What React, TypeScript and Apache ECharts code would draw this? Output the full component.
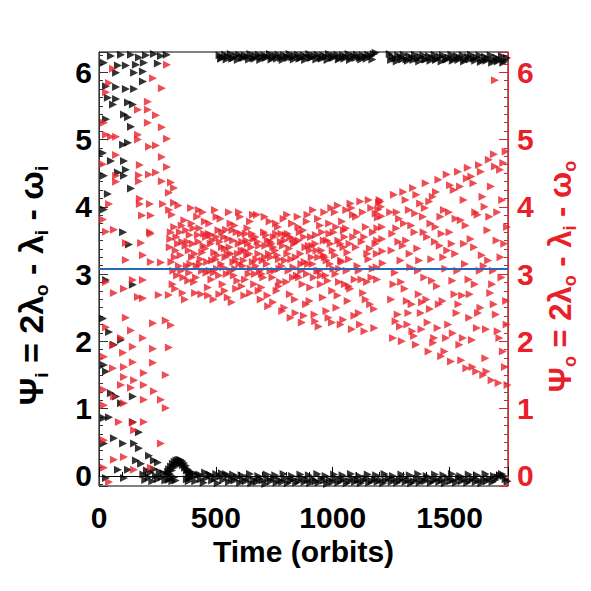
import React, { useEffect, useRef } from "react";
import * as echarts from "echarts";

const FONT = "Liberation Sans";
const RED = "#e8202a";
const BLUE = "#2a67b1";

// horizontal reference line (≈ π)
const resonanceLine = 3.08;

// Ψo (red), early circulating phase (time, angle)
const redEarly: [number, number][] = [
  [291, 6.11], [231, 5.91], [269, 5.76], [60, 6.05], [43, 5.84], [30, 5.7], [209, 5.56], [167, 5.44], [209, 5.44], [244, 5.36],
  [209, 5.25], [21, 5.25], [269, 5.18], [30, 5.07], [51, 5.04], [73, 5.04], [167, 5.07], [291, 5.01], [167, 5.0], [214, 4.89],
  [244, 4.91], [73, 4.77], [269, 4.74], [175, 4.62], [291, 4.59], [17, 4.63], [73, 4.46], [171, 4.47], [214, 4.48], [244, 4.51],
  [269, 4.38], [171, 4.38], [308, 4.36], [321, 4.28], [299, 4.21], [73, 4.37], [175, 4.12], [175, 4.04], [218, 4.04], [274, 4.04],
  [321, 4.06], [43, 4.04], [17, 3.81], [64, 3.66], [30, 3.63], [218, 3.62], [184, 3.87], [222, 3.87],
  [222, 3.6], [115, 3.46], [180, 3.46], [188, 3.28], [115, 3.21], [222, 3.18], [265, 3.17], [30, 2.88], [145, 2.91], [188, 2.91],
  [107, 2.78], [64, 2.72], [167, 2.66], [256, 2.69], [188, 2.64], [299, 2.69], [115, 2.35], [231, 2.27], [286, 2.31], [308, 2.24],
  [30, 2.21], [137, 2.16], [94, 2.05], [188, 2.05], [60, 1.94], [231, 1.89], [299, 1.91], [145, 1.92], [103, 1.83], [21, 1.77],
  [145, 1.69], [231, 1.68], [107, 1.62], [60, 1.6], [192, 1.53], [286, 1.5], [107, 1.47], [150, 1.42], [94, 1.35], [192, 1.35],
  [137, 1.31], [235, 1.26], [21, 1.28], [64, 1.18], [192, 1.13], [265, 1.13], [107, 1.08], [286, 1.01], [21, 1.05], [85, 0.8],
  [145, 0.79], [192, 0.8], [265, 0.48], [150, 0.68], [21, 0.53], [64, 0.24], [107, 0.28], [21, 0.12], [222, 0.12], [150, 0.09],
  [43, -0.09],
];

// Ψo (red), librating cluster around π
const redCluster: [number, number][] = [
  [300, 3.95], [305, 3.52], [310, 3.18], [315, 2.85], [322, 3.7], [328, 3.35], [334, 2.98], [340, 4.02], [346, 3.62], [352, 3.05],
  [358, 2.72], [365, 3.8], [370, 3.42], [376, 3.12], [382, 2.9], [388, 3.58], [394, 3.98], [398, 3.25],
  [404, 3.68], [410, 3.3], [415, 2.95], [420, 3.85], [426, 3.48], [432, 3.15], [438, 2.7], [444, 3.92], [450, 3.6], [455, 3.38],
  [460, 3.02], [466, 2.8], [472, 3.75], [478, 3.45], [484, 3.2], [490, 2.62], [496, 3.95],
  [502, 3.55], [508, 3.28], [514, 2.98], [520, 3.82], [526, 3.4], [532, 3.1], [538, 2.75], [544, 3.66], [550, 3.3], [556, 3.92],
  [562, 3.05], [568, 2.58], [574, 3.5], [580, 3.72], [586, 3.22], [592, 2.9], [598, 3.45],
  [604, 3.85], [610, 3.35], [616, 3.12], [622, 2.68], [628, 3.6], [634, 3.28], [640, 3.0], [646, 3.78], [652, 3.4], [658, 3.18],
  [664, 2.85], [670, 3.55], [676, 3.88], [682, 3.3], [688, 3.05], [692, 2.62], [695, 2.8], [697, 3.0], [700, 3.2],
  [706, 3.62], [712, 3.42], [718, 3.15], [724, 2.52], [730, 3.78], [736, 3.25], [742, 2.95], [748, 3.55], [754, 3.35], [760, 2.75],
  [766, 3.7], [772, 3.08], [778, 3.48], [784, 2.45], [790, 3.82], [796, 3.2],
  [802, 2.88], [808, 3.6], [814, 3.38], [820, 2.35], [826, 3.75], [832, 3.1], [838, 2.62], [844, 3.48], [850, 3.85], [856, 2.95],
  [862, 3.3], [868, 2.28], [874, 3.65], [880, 3.18], [886, 2.55], [892, 3.88], [898, 3.42],
  [904, 2.8], [910, 3.25], [916, 3.95], [922, 2.4], [928, 3.58], [934, 3.05], [940, 2.22], [946, 3.72], [952, 3.35], [958, 2.65],
  [964, 3.92], [970, 2.98], [976, 3.5], [982, 2.35], [988, 3.15], [994, 3.98], [998, 2.75],
  [1004, 3.62], [1010, 3.28], [1016, 2.5], [1022, 4.02], [1028, 3.08], [1034, 2.25], [1040, 3.78], [1046, 3.4], [1052, 2.85], [1058, 3.95],
  [1064, 2.6], [1070, 3.22], [1076, 4.05], [1082, 2.18], [1088, 3.55], [1094, 2.92],
  [1100, 3.85], [1106, 3.12], [1112, 2.42], [1118, 4.08], [1124, 3.48], [1130, 2.72], [1136, 2.15], [1142, 3.7], [1148, 3.3], [1154, 4.1],
  [1160, 2.55], [1166, 2.95], [1172, 3.62], [1178, 2.2], [1184, 3.9],
  [1246, 3.92], [1250, 2.62], [1252, 3.35], [1258, 2.05], [1262, 4.18], [1266, 3.02], [1272, 3.68], [1278, 2.4], [1284, 3.82], [1290, 3.2],
  [1296, 2.0], [1302, 4.22], [1308, 2.78], [1314, 3.5], [1320, 2.25], [1326, 3.95], [1332, 3.1], [1338, 2.55], [1344, 4.28], [1350, 3.62],
  [1356, 1.95], [1362, 3.38], [1368, 2.7], [1374, 4.05], [1380, 2.18], [1386, 3.85], [1392, 2.95], [1398, 4.35], [1404, 3.55], [1410, 1.85],
  [1416, 2.48], [1422, 3.22], [1428, 4.15], [1434, 2.05], [1440, 3.7], [1446, 2.82],
  [1452, 4.4], [1458, 3.42], [1464, 1.78], [1470, 2.6], [1476, 3.95], [1482, 3.08], [1488, 4.48], [1494, 2.25], [1500, 3.62], [1506, 1.7],
  [1512, 2.9], [1518, 4.25], [1524, 3.3], [1530, 2.42], [1536, 4.52], [1542, 1.95], [1548, 3.8],
  [1554, 2.68], [1560, 4.1], [1566, 3.15], [1572, 1.6], [1578, 4.58], [1584, 2.35], [1590, 3.52], [1596, 2.02], [1602, 4.35], [1608, 2.85],
  [1614, 1.55], [1620, 3.88], [1626, 4.62], [1632, 2.5], [1638, 3.28], [1644, 1.5], [1650, 4.0],
  [1656, 2.18], [1662, 3.65], [1668, 4.7], [1674, 2.72], [1680, 1.42], [1686, 3.05], [1690, 4.78], [1694, 5.88], [1698, 2.4], [1704, 3.92],
  [1710, 1.38], [1716, 4.55], [1722, 2.95], [1728, 1.85], [1734, 3.45], [1740, 4.82], [1744, 2.25], [1748, 1.35],
];

// Ψo (red), denser core of the cluster
const redCore: [number, number][] = [
  [303, 3.4], [318, 3.05], [331, 3.55], [349, 3.28], [361, 2.95], [379, 3.48], [391, 3.15], [407, 2.88], [423, 3.58], [435, 3.22],
  [447, 3.42], [463, 3.18], [469, 3.6], [481, 2.92], [493, 3.32], [505, 3.08], [517, 3.48], [529, 2.85], [541, 3.25], [553, 3.52],
  [565, 3.3], [577, 2.98], [589, 3.62], [601, 3.15], [613, 3.48], [625, 2.92], [637, 3.45], [649, 3.08], [661, 3.52], [673, 3.22],
  [685, 3.42], [703, 2.95], [715, 3.58], [727, 3.3], [739, 3.45], [751, 3.05], [763, 3.28], [775, 2.88], [787, 3.42], [799, 3.58],
  [811, 3.05], [823, 3.22], [835, 3.45], [847, 2.98], [859, 3.62], [871, 2.85], [883, 3.4], [895, 3.15], [907, 3.55], [919, 2.95],
  [931, 3.35], [943, 3.05], [955, 3.62], [967, 3.25], [979, 2.9], [991, 3.45], [1003, 3.08], [1015, 3.7], [1027, 2.88], [1039, 3.18],
  [1051, 3.55], [1063, 3.32], [1075, 2.78], [1087, 3.88], [1099, 3.4], [1111, 3.05], [1123, 2.92], [1135, 3.55], [1147, 2.88], [1159, 3.38],
  [1171, 3.08], [1183, 3.45],
  [1255, 3.6], [1269, 2.3], [1281, 3.48], [1293, 2.88], [1305, 3.75], [1317, 2.6], [1329, 3.3], [1341, 2.15], [1353, 3.9], [1365, 3.05],
  [1377, 2.42], [1389, 3.62], [1401, 2.62], [1413, 4.08], [1425, 2.9], [1437, 3.48], [1449, 2.2], [1461, 3.85], [1473, 3.25], [1485, 2.05],
  [1497, 3.92], [1509, 3.45], [1521, 2.7], [1533, 3.05], [1545, 4.3], [1557, 2.05], [1569, 3.72], [1581, 2.92], [1593, 4.45], [1605, 3.4],
  [1617, 2.2], [1629, 3.05], [1641, 4.15], [1653, 1.75], [1665, 3.2], [1677, 4.3], [1689, 2.55], [1701, 3.5], [1713, 2.05], [1725, 4.1],
  [1737, 1.62], [1746, 3.7],
];

// Ψo (red), further cluster samples
const redExtra: [number, number][] = [
  [312, 3.88], [326, 2.78], [338, 3.45], [354, 3.72], [368, 2.62], [384, 3.35], [396, 3.75], [411, 2.72], [427, 3.95], [441, 3.05],
  [453, 3.78], [467, 2.68], [479, 3.58], [491, 3.02], [503, 3.85], [515, 2.7], [527, 3.62], [539, 3.38], [551, 2.65], [563, 3.75],
  [575, 3.18], [587, 2.78], [599, 3.92], [611, 2.82], [623, 3.35], [635, 3.68], [647, 2.72], [659, 3.88], [671, 3.12], [683, 2.75],
  [709, 3.85], [721, 2.68], [733, 3.48], [745, 2.58], [757, 3.75], [769, 2.82], [781, 3.6], [793, 2.5], [805, 3.88], [817, 2.7],
  [829, 3.52], [841, 2.42], [853, 3.7], [865, 3.05], [877, 2.38], [889, 3.78], [901, 2.6], [913, 3.42], [925, 2.3], [937, 3.82],
  [949, 2.85], [961, 3.28], [973, 2.45], [985, 3.75], [997, 2.28], [1009, 3.92], [1021, 2.68], [1033, 3.45], [1045, 2.32], [1057, 3.68],
  [1069, 2.82], [1081, 3.98], [1093, 2.38], [1105, 3.62], [1117, 2.25], [1129, 3.92], [1141, 2.62], [1153, 3.22], [1165, 3.98], [1177, 2.48],
  [1260, 2.85], [1274, 3.92], [1288, 2.22], [1300, 3.42], [1312, 4.1], [1324, 2.42], [1336, 3.72], [1348, 2.08], [1358, 4.18], [1370, 3.2],
  [1382, 2.58], [1394, 3.98], [1406, 2.28], [1418, 3.75], [1430, 1.98], [1442, 4.22], [1454, 2.55], [1466, 3.6], [1478, 1.85], [1490, 3.35],
  [1502, 4.32], [1514, 2.12], [1526, 3.82], [1538, 2.55], [1550, 1.72], [1562, 3.45], [1574, 4.42], [1586, 2.7], [1598, 1.62], [1610, 3.92],
  [1622, 2.42], [1634, 4.52], [1646, 3.12], [1658, 1.55], [1670, 3.85], [1682, 2.85], [1694, 4.6], [1706, 2.15], [1718, 3.25], [1730, 4.65],
  [1742, 2.6],
];

// Ψo (red), densest band around the centre, t < 1100
const redCentre: [number, number][] = [
  [307, 3.62], [324, 3.25], [342, 3.12], [356, 3.48], [373, 3.65], [386, 3.02], [402, 3.45], [418, 3.12], [430, 3.68], [442, 3.32],
  [458, 3.55], [474, 3.05], [486, 3.5], [499, 3.22], [511, 3.65], [523, 3.15], [535, 3.55], [547, 3.0], [559, 3.4], [571, 3.65],
  [583, 3.08], [595, 3.3], [607, 3.6], [619, 3.2], [631, 3.5], [643, 3.3], [655, 3.6], [667, 3.0], [679, 3.48], [710, 3.25],
  [722, 3.5], [734, 3.05], [746, 3.4], [758, 3.6], [770, 3.22], [782, 3.12], [794, 3.5], [806, 3.3], [818, 3.55], [830, 2.95],
  [842, 3.25], [854, 3.5], [866, 3.15], [878, 3.55], [890, 3.0], [902, 3.35], [914, 3.15], [926, 3.45], [938, 3.25], [950, 2.98],
  [962, 3.5], [974, 3.2], [986, 3.6], [1000, 3.35], [1012, 3.0], [1024, 3.5], [1036, 3.2], [1048, 3.65], [1060, 3.05], [1072, 3.45],
];

// Ψo (red), the narrow excursion near t ≈ 1200
const redSpike: [number, number][] = [
  [1188, 3.1], [1189, 3.3], [1190, 3.5], [1191, 3.68], [1193, 3.84], [1195, 3.96], [1198, 4.06], [1201, 4.1], [1204, 4.08], [1207, 4.0],
  [1209, 3.86], [1211, 3.7], [1212, 3.52], [1213, 3.34], [1214, 3.16], [1190, 2.92],
];

// Ψi (black), early circulating phase
const blackEarly: [number, number][] = [
  [21, 6.14], [81, 6.1], [115, 6.1], [158, 6.11], [192, 6.14], [252, 6.13], [73, 5.99], [150, 5.99], [188, 6.01], [30, 5.79],
  [73, 5.78], [115, 5.75], [150, 5.75], [188, 5.86], [38, 5.62], [73, 5.6], [124, 5.55], [145, 5.52], [60, 5.52], [107, 5.37],
  [124, 5.33], [30, 5.3], [137, 5.19], [103, 4.92], [124, 4.95], [17, 4.8], [107, 4.68], [51, 4.68], [115, 4.55], [81, 4.51],
  [21, 4.46], [107, 4.46], [137, 4.27], [38, 4.19], [21, 3.96], [103, 3.62], [128, 3.44], [30, 2.91], [145, 2.84], [17, 2.34],
  [43, 2.14], [64, 1.95], [94, 2.02], [21, 1.65], [30, 1.55], [51, 1.23], [73, 1.18], [145, 1.18], [94, 1.08], [21, 0.86],
  [43, 0.87], [145, 0.8], [171, 0.65], [64, 0.56], [21, 0.48], [150, 0.48], [171, 0.41], [103, 0.48], [214, 0.3], [158, 0.23],
  [235, 0.23], [180, 0.18], [81, 0.09], [124, 0.09], [30, -0.03], [107, -0.03], [252, 0.2],
  [51, 6.24], [94, 6.26], [137, 6.26], [171, 6.22], [201, 6.25], [235, 6.27], [265, 6.24], [290, 6.26],
  [190, 0.02], [198, -0.06], [205, 0.08], [212, -0.02], [220, 0.05], [228, -0.08], [236, 0.1], [244, 0.0], [252, -0.05], [260, 0.06],
  [268, -0.02], [276, 0.04], [284, -0.07], [292, 0.02],
  [296, 0.06], [300, 0.1], [304, 0.03], [308, 0.14], [312, 0.08], [316, 0.18], [320, 0.12], [324, 0.21], [328, 0.16], [332, 0.23],
  [336, 0.18], [340, 0.24], [344, 0.19], [348, 0.24], [352, 0.18], [356, 0.22], [360, 0.16], [364, 0.19], [368, 0.12], [372, 0.15],
  [376, 0.08], [380, 0.1], [384, 0.04], [388, 0.06], [392, 0.0], [396, 0.03],
  [298, -0.06], [306, -0.04], [314, -0.08], [322, -0.02], [328, -0.07], [376, -0.05], [384, -0.08], [390, -0.03],
];

// Ψi (black), band just below 2π
const blackTop: [number, number][] = [
  [516, 6.25], [528, 6.22], [540, 6.26], [552, 6.23], [564, 6.27], [576, 6.21], [588, 6.24], [600, 6.26], [612, 6.22], [624, 6.25],
  [636, 6.23], [648, 6.27], [660, 6.21], [672, 6.24], [684, 6.26], [696, 6.22], [708, 6.25], [720, 6.23], [732, 6.27], [744, 6.22],
  [756, 6.24], [768, 6.26], [780, 6.21], [792, 6.25], [804, 6.23], [816, 6.27], [828, 6.22], [840, 6.24], [852, 6.26], [864, 6.21],
  [876, 6.25], [888, 6.23], [900, 6.27], [912, 6.22], [924, 6.24], [936, 6.26], [948, 6.21], [960, 6.25], [972, 6.23], [984, 6.27],
  [996, 6.22], [1008, 6.24], [1020, 6.26], [1032, 6.21], [1044, 6.25], [1056, 6.23], [1068, 6.27], [1080, 6.22], [1092, 6.24], [1104, 6.26],
  [1116, 6.21], [1128, 6.25], [1140, 6.23], [1152, 6.26], [1164, 6.24], [1176, 6.27], [1184, 6.29],
  [1244, 6.27], [1256, 6.23], [1268, 6.2], [1280, 6.25], [1292, 6.22], [1304, 6.26], [1316, 6.19], [1328, 6.24], [1340, 6.21], [1352, 6.26],
  [1364, 6.2], [1376, 6.23], [1388, 6.25], [1400, 6.19], [1412, 6.24], [1424, 6.21], [1436, 6.26], [1448, 6.2], [1460, 6.23], [1472, 6.25],
  [1484, 6.19], [1496, 6.22], [1508, 6.26], [1520, 6.2], [1532, 6.24], [1544, 6.21], [1556, 6.25], [1568, 6.19], [1580, 6.23], [1592, 6.26],
  [1604, 6.2], [1616, 6.22], [1628, 6.25], [1640, 6.18], [1652, 6.23], [1664, 6.2], [1676, 6.25], [1688, 6.18], [1700, 6.22], [1712, 6.19],
  [1724, 6.24], [1736, 6.17], [1746, 6.21],
  [522, 6.2], [546, 6.19], [570, 6.2], [594, 6.18], [618, 6.21], [642, 6.19], [666, 6.2], [690, 6.18], [714, 6.21], [738, 6.19],
  [762, 6.2], [786, 6.18], [810, 6.21], [834, 6.19], [858, 6.2], [882, 6.18], [906, 6.21], [930, 6.19], [954, 6.2], [978, 6.18],
  [1002, 6.21], [1026, 6.19], [1050, 6.2], [1074, 6.18], [1098, 6.21], [1122, 6.19], [1146, 6.2], [1170, 6.19],
  [1250, 6.18], [1274, 6.16], [1298, 6.19], [1322, 6.17], [1346, 6.18], [1370, 6.16], [1394, 6.19], [1418, 6.17], [1442, 6.18], [1466, 6.16],
  [1490, 6.19], [1514, 6.17], [1538, 6.18], [1562, 6.16], [1586, 6.19], [1610, 6.17], [1634, 6.15], [1658, 6.17], [1682, 6.14], [1706, 6.16],
  [1730, 6.14],
];

// Ψi (black), band just above 0
const blackBottom: [number, number][] = [
  [400, -0.02], [412, -0.08], [424, 0.01], [436, -0.05], [448, -0.1], [460, -0.03], [472, 0.02], [484, -0.07], [496, -0.04], [508, -0.11],
  [520, -0.01], [532, -0.06], [544, 0.03], [556, -0.09], [568, -0.04], [580, -0.07], [592, -0.02], [604, -0.1], [616, -0.05], [628, -0.08],
  [640, -0.03], [652, -0.11], [664, -0.06], [676, -0.09], [688, -0.04], [700, -0.07], [712, -0.12], [724, -0.05], [736, -0.08], [748, -0.03],
  [760, -0.1], [772, -0.06], [784, -0.09], [796, -0.04], [808, -0.11], [820, -0.07], [832, -0.05], [844, -0.1], [856, -0.08], [868, -0.03],
  [880, -0.09], [892, -0.06], [904, -0.11], [916, -0.05], [928, -0.08], [940, -0.1], [952, -0.04], [964, -0.07], [976, -0.12], [988, -0.06],
  [1000, -0.09], [1012, -0.04], [1024, -0.1], [1036, -0.07], [1048, -0.05], [1060, -0.11], [1072, -0.08], [1084, -0.03], [1096, -0.09], [1108, -0.06],
  [1120, -0.11], [1132, -0.07], [1144, -0.04], [1156, -0.1], [1168, -0.08], [1180, -0.05], [1192, -0.09], [1204, -0.06], [1216, -0.11], [1228, -0.07],
  [1240, -0.03], [1252, -0.09], [1264, -0.05], [1276, -0.1], [1288, -0.07], [1300, -0.04], [1312, -0.09], [1324, -0.06], [1336, -0.11], [1348, -0.08],
  [1360, -0.04], [1372, -0.1], [1384, -0.06], [1396, -0.08], [1408, -0.03], [1420, -0.1], [1432, -0.07], [1444, -0.05], [1456, -0.09], [1468, -0.06],
  [1480, -0.11], [1492, -0.04], [1504, -0.08], [1516, -0.06], [1528, -0.1], [1540, -0.03], [1552, -0.08], [1564, -0.05], [1576, -0.1], [1588, -0.07],
  [1600, -0.04], [1612, -0.09], [1624, -0.06], [1636, -0.11], [1648, -0.05], [1660, -0.08], [1672, -0.04], [1684, -0.09], [1696, -0.06], [1708, -0.02],
  [1716, 0.01], [1724, 0.03], [1732, 0.0], [1740, -0.05], [1748, -0.08],
  [406, 0.04], [430, 0.02], [454, 0.05], [478, 0.01], [502, 0.03], [526, 0.04], [550, 0.0], [574, 0.02], [610, 0.01], [646, 0.03],
  [682, 0.0], [718, 0.02], [754, 0.01], [790, 0.03], [826, 0.0], [862, 0.02], [898, 0.01], [934, 0.03], [970, 0.0], [1006, 0.02],
  [1042, 0.01], [1078, 0.03], [1114, 0.0], [1150, 0.02], [1186, 0.01], [1222, 0.03], [1258, 0.0], [1294, 0.02], [1330, 0.01], [1366, 0.03],
  [1402, 0.0], [1438, 0.02], [1474, 0.01], [1510, 0.03], [1546, 0.0], [1582, 0.02], [1618, 0.01], [1654, 0.03], [1690, 0.0],
];

const xTickLabels = ["0", "500", "1000", "1500"];

function makeName(color: string, subs: string[], size: number, tail: number) {
  const t = { fontSize: size, fontWeight: "bold", fontFamily: FONT, color, lineHeight: size + 6 };
  const sub = Math.round(size * 0.57);
  const s = { fontSize: sub, fontWeight: "bold", fontFamily: FONT, color, lineHeight: sub, verticalAlign: "bottom" };
  const p = { fontSize: size, width: tail, lineHeight: size + 6 };
  return {
    text: `{t|Ψ}{s|${subs[0]}}{t| = 2λ}{s|${subs[1]}}{t| - λ}{s|${subs[2]}}{t| - ω}{s|${subs[3]}}{p| }`,
    rich: { t, s, p },
  };
}

export default function App() {
  const ref = useRef<HTMLDivElement>(null);
  useEffect(() => {
    if (!ref.current) return;
    const chart = echarts.init(ref.current, undefined, { renderer: "svg" });
    const leftName = makeName("#000", ["i", "o", "i", "i"], 34, 33);
    const rightName = makeName(RED, ["o", "o", "i", "o"], 31, 15);
    const sym = { symbol: "triangle", symbolRotate: -90, symbolSize: 8 };
    const yCommon = (color: string) => ({
      type: "value",
      min: -0.15,
      max: 6.3,
      splitNumber: 6,
      minInterval: 1,
      maxInterval: 1,
      splitLine: { show: false },
      axisLine: { show: true, lineStyle: { color, width: 1 } },
      axisTick: { show: true, inside: true, length: 9, lineStyle: { color } },
      minorTick: { show: true, splitNumber: 8, length: 4, lineStyle: { color } },
      nameLocation: "middle",
      nameRotate: 90,
    });
    chart.setOption({
      animation: false,
      backgroundColor: "#fff",
      grid: { left: 99, right: 83, top: 52, bottom: 105, show: true, borderColor: "#000", borderWidth: 1, backgroundColor: "transparent", outerBoundsMode: "none" },
      xAxis: {
        type: "value",
        min: 0,
        max: 1750,
        interval: 500,
        name: "Time (orbits)",
        nameLocation: "middle",
        nameGap: 47,
        nameTextStyle: { fontSize: 30, fontWeight: "bold", fontFamily: FONT, color: "#000" },
        axisLine: { show: true, lineStyle: { color: "#000" } },
        axisTick: { show: true, inside: true, length: 9, lineStyle: { color: "#000" } },
        minorTick: { show: true, splitNumber: 5, length: 4, lineStyle: { color: "#000" } },
        splitLine: { show: false },
        axisLabel: {
          fontSize: 30, fontWeight: "bold", fontFamily: FONT, color: "#000", margin: 16, showMaxLabel: false,
          formatter: (v: number) => (xTickLabels.includes(String(v)) ? String(v) : ""),
        },
      },
      yAxis: [
        {
          ...yCommon("#333"),
          position: "left",
          name: leftName.text,
          nameGap: 48,
          nameTextStyle: { rich: leftName.rich, color: "#000" },
          axisLabel: { fontSize: 30, fontWeight: "bold", fontFamily: FONT, color: "#000", margin: 7, showMinLabel: false, showMaxLabel: false },
        },
        {
          ...yCommon(RED),
          position: "right",
          name: rightName.text,
          nameGap: 32,
          nameTextStyle: { rich: rightName.rich, color: RED },
          axisLabel: { fontSize: 30, fontWeight: "bold", fontFamily: FONT, color: RED, margin: 9, showMinLabel: false, showMaxLabel: false },
        },
      ],
      series: [
        {
          type: "scatter",
          name: "Psi_i",
          yAxisIndex: 0,
          ...sym,
          itemStyle: { color: "#000" },
          z: 2,
          data: [...blackEarly, ...blackTop, ...blackBottom],
        },
        {
          type: "scatter",
          name: "Psi_o",
          yAxisIndex: 1,
          ...sym,
          itemStyle: { color: RED },
          z: 3,
          data: [...redEarly, ...redCluster, ...redCore, ...redExtra, ...redCentre, ...redSpike],
          markLine: {
            silent: true,
            symbol: "none",
            label: { show: false },
            lineStyle: { color: BLUE, width: 2, type: "solid" },
            data: [{ yAxis: resonanceLine }],
          },
        },
      ],
    });
    return () => chart.dispose();
  }, []);
  return <div ref={ref} style={{ position: "fixed", left: 0, top: 0, width: 591, height: 591 }} />;
}
